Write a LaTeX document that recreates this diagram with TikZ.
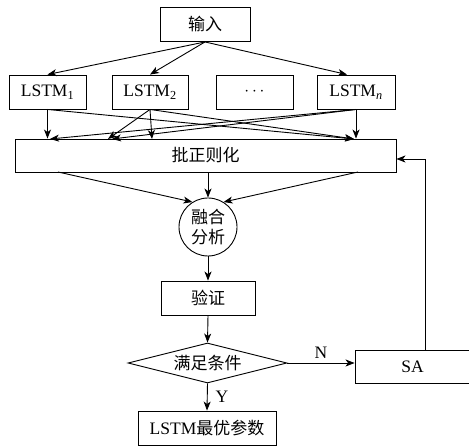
\documentclass[tikz,border=0pt]{standalone}
\usepackage{fontspec}
\setmainfont{Liberation Serif}
\newfontfamily\cjk{Noto Sans CJK SC}
\usetikzlibrary{shapes.geometric,arrows.meta}

\begin{document}
\begin{tikzpicture}[
        x=1pt, y=-1pt,
        every node/.style={draw, line width=0.9pt, align=center, inner sep=0pt,
            font=\fontsize{17.5}{20}\selectfont},
        box/.style={minimum height=34pt},
        cn/.style={font=\fontsize{17}{20}\selectfont\cjk},
        link/.style={line width=0.9pt, -{Stealth[length=9pt, width=7pt, inset=2.5pt]}},
        tag/.style={draw=none}
    ]
    \useasboundingbox (0,0) rectangle (469,446);
    \node[box, cn, minimum width=90pt] (in) at (205,24.5) {输入};
    \node[box, minimum width=77pt] (l1) at (47.5,92) {LSTM\textsubscript{1}};
    \node[box, minimum width=76pt] (l2) at (150,92) {LSTM\textsubscript{2}};
    \node[box, minimum width=77pt] (ld) at (254.5,92) {$\cdots$};
    \node[box, minimum width=78pt] (ln) at (356,92) {LSTM\textsubscript{\textit{n}}};
    \node[box, cn, minimum width=381pt, minimum height=33pt] (bn) at (205.5,155.5) {批正则化};
    \node[circle, cn, minimum size=58pt] (fu) at (208,227) {融合\\分析};
    \node[box, cn, minimum width=94pt] (ve) at (208,298) {验证};
    \node[diamond, cn, aspect=4, minimum width=159pt, minimum height=40pt] (co) at (207.5,363) {满足条件};
    \node[box, minimum width=115pt, minimum height=33pt] (sa) at (412.5,366.5) {SA};
    \node[box, minimum width=138pt] (op) at (207,428) {LSTM{\cjk\fontsize{17}{20}\selectfont 最优参数}};

    \coordinate (ba) at (50,139);
    \coordinate (bb) at (108,139);
    \coordinate (bc) at (152,139);
    \coordinate (bd) at (354,139);

    \draw[link] (in.south) -- (l1.north);
    \draw[link] (in.south) -- (l2.north);
    \draw[link] (in.south) -- ([xshift=-9pt]ln.north);

    \draw[link] (l1.south) -- (l1.south |- bn.north);
    \draw[link] (l1.south) -- (bd);
    \draw[link] (l2.south) -- (bb);
    \draw[link] (l2.south) -- (bc);
    \draw[link] (l2.south) -- (bd);
    \draw[link] (ln.south) -- (ba);
    \draw[link] (ln.south) -- ([xshift=4pt]bb);
    \draw[link] (ln.south) -- (ln.south |- bn.north);

    \draw[link] (58,172) -- (fu.122);
    \draw[link] (fu.north |- bn.south) -- (fu.north);
    \draw[link] (358,172) -- (fu.58);

    \draw[link] (fu.south) -- (ve.north);
    \draw[link] (ve.south) -- (co.north);
    \draw[link] (co.east) -- (co.east -| sa.west) node[tag, midway, above=4pt] {N};
    \draw[link] (co.south) -- (op.north) node[tag, midway, right=8pt] {Y};
    \draw[link] ([xshift=12.5pt]sa.north) |- ([yshift=-3.5pt]bn.east);
\end{tikzpicture}
\end{document}
